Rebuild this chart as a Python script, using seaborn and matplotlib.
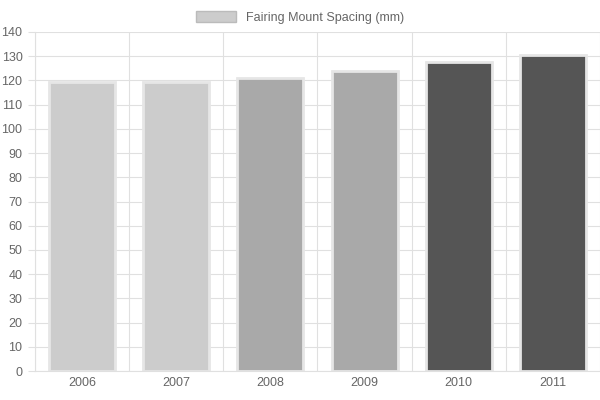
import matplotlib
matplotlib.use("Agg")
import matplotlib.pyplot as plt
import seaborn as sns
import pandas as pd
from matplotlib.patches import Patch

years = ["2006", "2007", "2008", "2009", "2010", "2011"]
values = [119.5, 119.5, 121, 124, 127.5, 130.5]
colors = ["#cccccc", "#cccccc", "#a9a9a9", "#a9a9a9", "#555555", "#555555"]
label = "Fairing Mount Spacing (mm)"

sns.set_style("white")
plt.rcParams['font.family'] = ['Liberation Sans', 'DejaVu Sans']
fig = plt.figure(figsize=(6, 4), dpi=100)
ax = fig.add_axes([35/600, 29/400, 565/600, 339/400])
df = pd.DataFrame({"year": years, "value": values})
sns.barplot(data=df, x="year", y="value", hue="year", palette=colors, legend=False,
            width=0.7, edgecolor="#e6e6e6", linewidth=2, ax=ax, saturation=1)
ax.set_ylim(0, 140)
ax.set_yticks(range(0, 141, 10))
ax.set_xlim(-0.5, 5.5)
ax.set_xticks([i - 0.5 for i in range(7)], minor=True)
ax.grid(True, which="minor", axis="x", color="#e0e0e0", lw=0.8)
ax.grid(True, which="major", axis="y", color="#e0e0e0", lw=0.8)
ax.set_axisbelow(True)
ax.tick_params(axis="both", which="major", labelsize=9, labelcolor="#666666", length=0, pad=4)
ax.tick_params(axis="x", which="minor", length=5, color="#e0e0e0")
ax.tick_params(axis="y", which="major", length=5, color="#e0e0e0", left=True)
ax.set_xlabel("")
ax.set_ylabel("")
for s in ax.spines.values():
    s.set_visible(False)
ax.spines["left"].set_visible(True)
ax.spines["left"].set_color("#e0e0e0")
ax.spines["bottom"].set_visible(True)
ax.spines["bottom"].set_color("#e0e0e0")
fig.legend(handles=[Patch(facecolor="#cccccc", edgecolor="#bbbbbb", label=label)],
           loc="upper center", bbox_to_anchor=(0.5, 1.0), frameon=False,
           fontsize=9, labelcolor="#666666", handlelength=3.2, handleheight=1.0)
fig.savefig("out.png", dpi=100)
